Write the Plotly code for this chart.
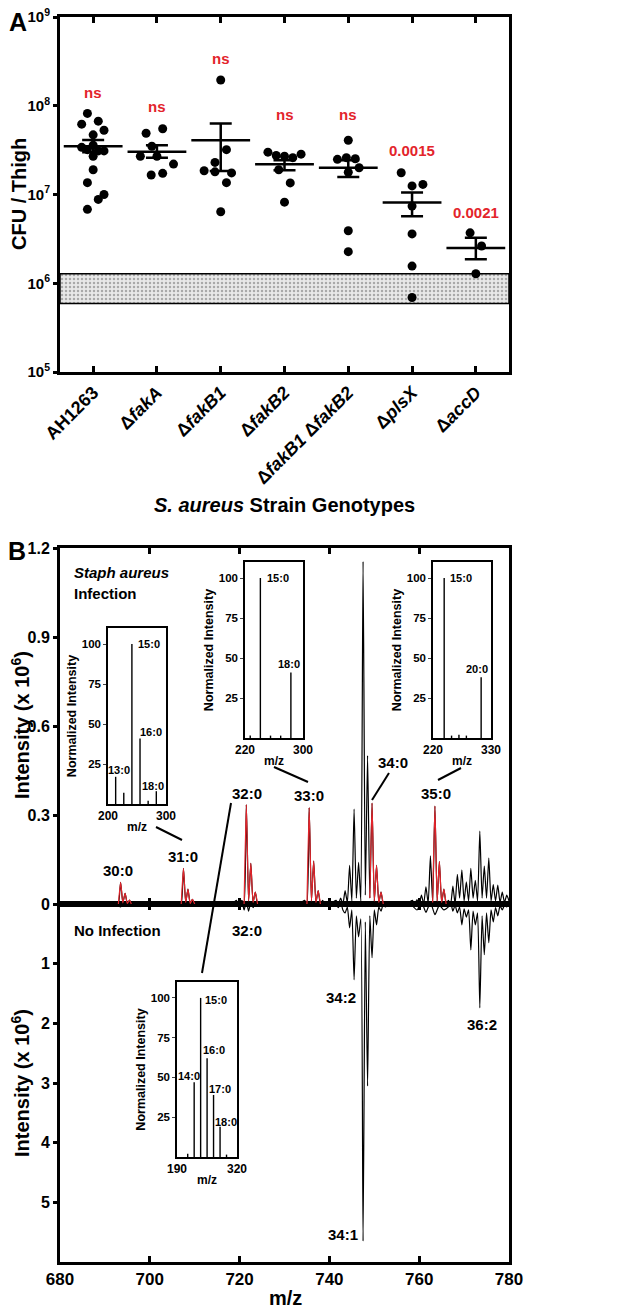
import plotly.graph_objects as go

FONT = "Liberation Sans, Arial, sans-serif"
RED = "#e3242b"

# ---------------------------------------------------------------- panel A data
strains = ["AH1263", "Δ<i>fakA</i>", "Δ<i>fakB1</i>", "Δ<i>fakB2</i>",
           "Δ<i>fakB1</i> Δ<i>fakB2</i>", "Δ<i>plsX</i>", "Δ<i>accD</i>"]

cfu_ah1263 = [8.2e7, 6.2e7, 6.7e7, 4.7e7, 5.3e7, 3.4e7, 3.6e7, 3.2e7, 3.1e7, 3.1e7,
              2.7e7, 1.9e7, 1.36e7, 1.0e7, 8.8e6, 6.8e6]
jit_ah1263 = [-0.09, -0.18, 0.08, 0.0, 0.17, -0.18, 0.0, -0.09, 0.08, 0.17,
              0.0, 0.0, -0.09, 0.17, 0.08, -0.09]
cfu_fakA = [4.9e7, 5.5e7, 3.5e7, 2.7e7, 2.7e7, 2.2e7, 1.66e7, 1.73e7]
jit_fakA = [-0.17, 0.09, -0.08, 0.0, -0.26, 0.26, -0.09, 0.09]
cfu_fakB1 = [1.95e8, 3.2e7, 2.3e7, 1.85e7, 1.8e7, 1.75e7, 1.36e7, 6.4e6]
jit_fakB1 = [0.0, 0.09, -0.09, -0.26, -0.09, 0.17, 0.09, 0.0]
cfu_fakB2 = [3.0e7, 2.75e7, 2.7e7, 2.6e7, 2.85e7, 1.9e7, 1.35e7, 8.2e6]
jit_fakB2 = [-0.26, -0.13, 0.0, 0.13, 0.26, -0.09, 0.09, 0.0]
cfu_fakB1B2 = [4.08e7, 2.49e7, 2.6e7, 2.53e7, 1.78e7, 2.0e7, 3.9e6, 2.27e6]
jit_fakB1B2 = [0.0, -0.17, -0.03, 0.11, 0.0, 0.17, 0.0, 0.0]
cfu_plsX = [1.76e7, 1.25e7, 1.3e7, 7.4e6, 3.6e6, 1.56e6, 6.9e5]
jit_plsX = [-0.17, 0.0, 0.17, 0.0, 0.0, 0.0, 0.0]
cfu_accD = [3.7e6, 2.63e6, 1.28e6]
jit_accD = [-0.09, 0.09, 0.0]

cfu_mean = [3.5e7, 3.03e7, 4.08e7, 2.19e7, 2.0e7, 8.1e6, 2.5e6]
cfu_upper = [4.1e7, 3.6e7, 6.3e7, 2.43e7, 2.43e7, 1.05e7, 3.26e6]
cfu_lower = [3.0e7, 2.6e7, 1.84e7, 1.88e7, 1.57e7, 5.7e6, 1.86e6]

p_labels = ["ns", "ns", "ns", "ns", "ns", "0.0015", "0.0021"]
lod_low, lod_high = 5.9e5, 1.28e6

# ---------------------------------------------------------------- panel B data
# infection spectrum (x 10^6), apex/valley vertices
mz_inf = [680.0, 686.0, 692.5, 693.0, 693.5, 694.0, 694.5, 695.0, 695.5, 696.0, 696.8,
          706.5, 707.0, 707.5, 708.0, 708.5, 709.0, 709.5, 710.0, 710.5,
          718.5, 719.3, 719.8, 720.5, 721.0, 721.5, 722.0, 722.5, 723.0, 723.5, 724.0, 724.5, 725.0,
          733.5, 734.5, 735.0, 735.5, 736.0, 736.5, 737.0, 737.5, 738.0, 738.5, 739.0,
          740.5, 741.5, 742.0, 742.5, 743.0, 743.5, 744.0, 744.5, 745.0, 745.5, 746.0, 746.5,
          747.0, 747.5, 748.0, 748.5, 749.0, 749.5, 750.0, 750.5, 751.0, 751.5, 752.0, 752.5, 753.0,
          757.5, 758.5, 759.0, 759.5, 760.0, 760.5, 761.0, 761.5, 762.0, 762.5, 763.0,
          763.5, 764.0, 764.5, 765.0, 765.5, 766.0, 766.5, 767.0, 767.5, 768.0, 768.5, 769.0,
          769.5, 770.0, 770.5, 771.0, 771.5, 772.0, 772.5, 773.0, 773.5, 774.0, 774.5, 775.0,
          775.5, 776.0, 776.5, 777.0, 777.5, 778.0, 778.5, 779.0, 779.5, 780.0]
int_inf = [0.003, 0.003, 0.003, 0.0, 0.073, 0.004, 0.036, 0.002, 0.013, -0.006, 0.003,
           0.003, 0.0, 0.12, 0.005, 0.05, 0.002, 0.016, 0.0, 0.003,
           0.004, 0.012, -0.008, 0.012, 0.0, 0.335, 0.01, 0.137, 0.005, 0.04, 0.0, 0.008, 0.0,
           0.004, 0.012, 0.0, 0.325, 0.01, 0.145, 0.005, 0.045, 0.0, 0.012, 0.0,
           0.004, 0.012, 0.0, 0.02, 0.0, 0.045, 0.005, 0.13, 0.01, 0.32, 0.02, 0.14,
           0.01, 1.155, 0.03, 0.50, 0.02, 0.34, 0.01, 0.13, 0.005, 0.04, 0.0, 0.008, 0.0,
           0.004, 0.012, 0.0, 0.015, 0.0, 0.03, 0.0, 0.058, 0.002, 0.162, 0.005,
           0.33, 0.01, 0.143, 0.005, 0.05, 0.0, 0.012, 0.0, 0.06, 0.0, 0.10, 0.02,
           0.115, 0.01, 0.075, 0.01, 0.12, 0.02, 0.08, 0.01, 0.246, 0.02, 0.128, 0.02,
           0.155, 0.01, 0.065, 0.01, 0.064, 0.005, 0.04, 0.005, 0.03, 0.01]
# odd/saturated PG clusters highlighted in red
red_from = [693.0, 707.0, 721.0, 735.0, 749.0, 763.0]
red_to = [696.0, 710.0, 724.0, 738.0, 752.0, 766.0]

# no-infection spectrum (x 10^6), drawn downward
mz_ctl = [680.0, 692.5, 693.5, 694.0, 694.5, 695.5, 706.5, 707.5, 708.5, 719.5, 720.0, 720.5,
          721.0, 721.5, 722.0, 722.5, 723.0, 723.5, 724.5, 733.5, 735.5, 736.5, 737.5, 741.0,
          742.0, 742.5, 743.0, 743.5, 744.0, 744.5, 745.0, 745.5, 746.0, 746.5, 747.0, 747.5,
          748.0, 748.5, 749.0, 749.5, 750.0, 750.5, 751.0, 751.5, 752.0, 752.5, 753.5,
          758.0, 759.5, 760.5, 761.5, 762.5, 763.5, 764.5, 765.5, 766.5, 767.0, 767.5, 768.0,
          768.5, 769.0, 769.5, 770.0, 770.5, 771.0, 771.5, 772.0, 772.5, 773.0, 773.5, 774.0,
          774.5, 775.0, 775.5, 776.0, 776.5, 777.0, 777.5, 778.0, 778.5, 779.0, 779.5, 780.0]
int_ctl = [0.0, 0.0, 0.05, -0.03, 0.02, 0.0, 0.0, 0.01, 0.0, 0.0, 0.06, -0.05,
           0.1, -0.04, 0.12, -0.03, 0.06, 0.0, 0.0, 0.0, 0.03, 0.0, 0.0, 0.0,
           0.06, -0.04, 0.1, 0.15, 0.05, 0.4, 0.1, 1.27, 0.2, 0.55, 0.25, 5.65,
           0.3, 3.05, 0.2, 0.9, 0.1, 0.35, 0.05, 0.12, 0.0, 0.05, 0.0,
           0.0, 0.1, -0.04, 0.14, -0.03, 0.18, 0.02, 0.1, 0.05, -0.03, 0.12, 0.02,
           0.15, 0.05, 0.35, 0.08, 0.22, 0.1, 0.77, 0.12, 0.35, 0.15, 1.74, 0.2,
           0.85, 0.15, 0.65, 0.1, 0.3, 0.06, 0.2, 0.03, 0.1, 0.02, 0.05, 0.0]

# fatty-acid fragment insets (normalized intensity)
fa1_mz = [213.2, 227.2, 241.2, 255.2, 269.2, 283.3]
fa1_int = [17, 7, 100, 41, 2, 8]
fa2_mz = [227.2, 241.2, 255.2, 269.2, 283.3]
fa2_int = [1.5, 100, 1.5, 1.5, 41]
fa3_mz = [241.2, 255.2, 269.2, 283.3, 311.3]
fa3_int = [100, 1.5, 2, 1.5, 38]
fa4_mz = [213.2, 227.2, 241.2, 255.2, 269.2, 283.3, 297.3]
fa4_int = [2, 47, 100, 62, 39, 19, 1.5]

# ---------------------------------------------------------------- geometry helpers
# page body has an 8px margin, so the figure itself is 8px smaller
PAGE_OFF = 8
W, H = 621 - PAGE_OFF, 1313 - PAGE_OFF
ML, MR, MT, MB = 60 - PAGE_OFF, 112, 17 - PAGE_OFF, 51
PW, PH = W - ML - MR, H - MT - MB
PLOT_LEFT, PLOT_BOTTOM = ML + PAGE_OFF, MT + PAGE_OFF + PH   # page pixels


def px(x):
    return (x - PLOT_LEFT) / PW


def py(y):
    return (PLOT_BOTTOM - y) / PH


def bold(size, color="black", italic=False):
    return dict(family=FONT, size=size, color=color, weight="bold",
                style="italic" if italic else "normal")


fig = go.Figure()

# ---------------------------------------------------------------- panel A traces
fig.add_trace(go.Scatter(
    x=[-0.52, 6.52, 6.52, -0.52, -0.52], y=[lod_low, lod_low, lod_high, lod_high, lod_low],
    fill="toself", mode="lines", line=dict(color="black", width=1.5),
    fillcolor="#e4e4e4",
    fillpattern=dict(shape=".", size=4, solidity=0.3, fgcolor="#6a6a6a", bgcolor="#e8e8e8"),
    hoverinfo="skip", xaxis="x", yaxis="y",
))

groups = [(cfu_ah1263, jit_ah1263), (cfu_fakA, jit_fakA), (cfu_fakB1, jit_fakB1),
          (cfu_fakB2, jit_fakB2), (cfu_fakB1B2, jit_fakB1B2), (cfu_plsX, jit_plsX),
          (cfu_accD, jit_accD)]
for i, (vals, jit) in enumerate(groups):
    fig.add_trace(go.Scatter(
        x=[i + j for j in jit], y=vals, mode="markers",
        marker=dict(color="black", size=9), xaxis="x", yaxis="y",
    ))

fig.add_trace(go.Scatter(
    x=list(range(len(strains))), y=cfu_mean, mode="markers",
    marker=dict(symbol="line-ew", size=42, line=dict(color="black", width=2.5)),
    error_y=dict(type="data", symmetric=False,
                 array=[u - m for u, m in zip(cfu_upper, cfu_mean)],
                 arrayminus=[m - l for m, l in zip(cfu_mean, cfu_lower)],
                 color="black", thickness=2.5, width=11),
    xaxis="x", yaxis="y",
))

# ---------------------------------------------------------------- panel B traces
spec_line = dict(width=1.2, shape="spline", smoothing=0.5)
fig.add_trace(go.Scatter(
    x=mz_inf, y=int_inf, mode="lines", line=dict(color="black", **spec_line),
    xaxis="x3", yaxis="y2",
))
red_x, red_y = [], []
for lo, hi in zip(red_from, red_to):
    for m, v in zip(mz_inf, int_inf):
        if lo <= m <= hi:
            red_x.append(m)
            red_y.append(v)
    red_x.append(None)
    red_y.append(None)
fig.add_trace(go.Scatter(
    x=red_x, y=red_y, mode="lines", line=dict(color=RED, **spec_line),
    connectgaps=False, xaxis="x3", yaxis="y2",
))
fig.add_trace(go.Scatter(
    x=mz_ctl, y=int_ctl, mode="lines", line=dict(color="black", **spec_line),
    xaxis="x2", yaxis="y3",
))

# insets (page-pixel boxes)
insets = [
    (4, fa1_mz, fa1_int, [108, 166], [628, 804], [200, 300]),
    (5, fa2_mz, fa2_int, [245, 303], [562, 738], [220, 300]),
    (6, fa3_mz, fa3_int, [433, 491], [562, 738], [220, 330]),
    (7, fa4_mz, fa4_int, [177, 237], [982, 1157], [190, 320]),
]
layout_axes = {}
for n, mzs, ints, xb, yb, xr in insets:
    sx, sy = [], []
    for m, v in zip(mzs, ints):
        sx += [m, m, None]
        sy += [0, v, None]
    fig.add_trace(go.Scatter(x=sx, y=sy, mode="lines", line=dict(color="black", width=1.4),
                             xaxis=f"x{n}", yaxis=f"y{n}"))
    layout_axes[f"xaxis{n}"] = dict(
        domain=[px(xb[0]), px(xb[1])], range=xr, anchor=f"y{n}", tickvals=xr,
        ticks="", showgrid=False, zeroline=False, linecolor="black", linewidth=1.5,
        mirror=True, tickfont=bold(12), automargin=False,
        title=dict(text="m/z", font=bold(12), standoff=0),
    )
    layout_axes[f"yaxis{n}"] = dict(
        domain=[py(yb[1]), py(yb[0])], range=[0, 110], anchor=f"x{n}",
        tickvals=[25, 50, 75, 100], ticks="outside", ticklen=3, tickwidth=1.2,
        showgrid=False, zeroline=False, linecolor="black", linewidth=1.5, mirror=True,
        tickfont=bold(11.5), automargin=False,
        title=dict(text="Normalized Intensity", font=bold(12.5), standoff=2),
    )

# ---------------------------------------------------------------- annotations
ann = []
# panel labels
ann.append(dict(text="A", x=px(18), y=py(22), font=bold(25)))
ann.append(dict(text="B", x=px(17), y=py(551), font=bold(25)))
# panel A p-values (log10 positions)
p_label_y = [8.147, 7.986, 8.535, 7.899, 7.899, 7.498, 6.792]
for i, (t, yv) in enumerate(zip(p_labels, p_label_y)):
    ann.append(dict(text=t, x=i, y=yv, xref="x", yref="y", font=bold(15, RED)))
ann.append(dict(text="CFU / Thigh", x=px(19), y=py(194), textangle=-90, font=bold(20)))
ann.append(dict(text="<i>S. aureus</i> Strain Genotypes", x=px(284), y=py(505), font=bold(20)))
# panel B text
ann.append(dict(text="Intensity (x 10<sup>6</sup>)", x=px(20), y=py(725), textangle=-90, font=bold(20)))
ann.append(dict(text="Intensity (x 10<sup>6</sup>)", x=px(20), y=py(1083), textangle=-90, font=bold(20)))
ann.append(dict(text="m/z", x=px(285), y=py(1298), font=bold(20)))
ann.append(dict(text="<i>Staph aureus</i>", x=px(72), y=py(572), xanchor="left", font=bold(15)))
ann.append(dict(text="Infection", x=px(72), y=py(593), xanchor="left", font=bold(15)))
ann.append(dict(text="No Infection", x=px(72), y=py(931), xanchor="left", font=bold(15)))
peak_labels = [("30:0", 118, 870), ("31:0", 183, 856), ("32:0", 247, 793), ("33:0", 309, 795),
               ("34:0", 393, 762), ("35:0", 436, 793), ("32:0", 247, 931), ("34:2", 341, 997),
               ("36:2", 482, 1024), ("34:1", 343, 1234)]
for t, xx, yy in peak_labels:
    ann.append(dict(text=t, x=px(xx), y=py(yy), font=bold(15)))
# inset peak labels (inset axis, x, y, xanchor)
inset_labels = [
    (4, "15:0", 248, 100, "left"), (4, "16:0", 251, 45, "left"),
    (4, "13:0", 219, 21, "center"), (4, "18:0", 278, 11, "center"),
    (5, "15:0", 247, 100, "left"), (5, "18:0", 280, 46, "center"),
    (6, "15:0", 248, 100, "left"), (6, "20:0", 303, 43, "center"),
    (7, "15:0", 247, 99, "left"), (7, "16:0", 270, 67, "center"),
    (7, "14:0", 216, 51, "center"), (7, "17:0", 283, 43, "center"),
    (7, "18:0", 296, 22, "center"),
]
for n, t, xx, yy, xa in inset_labels:
    ann.append(dict(text=t, x=xx, y=yy, xref=f"x{n}", yref=f"y{n}", xanchor=xa, font=bold(11)))

for a in ann:
    a.setdefault("xref", "paper")
    a.setdefault("yref", "paper")
    a.setdefault("xanchor", "center")
    a.setdefault("yanchor", "middle")
    a.setdefault("showarrow", False)

connectors = [((156, 827), (182, 840)), ((231, 803), (202, 973)), ((274, 767), (308, 782)),
              ((389, 773), (372, 800)), ((461, 768), (438, 780))]
shapes = [dict(type="line", xref="paper", yref="paper", x0=px(a[0]), y0=py(a[1]),
               x1=px(b[0]), y1=py(b[1]), line=dict(color="black", width=2))
          for a, b in connectors]

axis_common = dict(showgrid=False, zeroline=False, linecolor="black", linewidth=3,
                   tickcolor="black", tickwidth=2.5, automargin=False,
                   ticklabeloverflow="allow")

fig.update_layout(
    width=W, height=H, margin=dict(l=ML, r=MR, t=MT, b=MB),
    paper_bgcolor="white", plot_bgcolor="rgba(0,0,0,0)", showlegend=False,
    font=dict(family=FONT, color="black"),
    xaxis=dict(domain=[0, 1], range=[-0.52, 6.52], anchor="y", tickvals=list(range(7)),
               ticktext=strains, tickangle=-45, ticks="inside", ticklen=6, mirror="ticks",
               tickfont=bold(18), **axis_common),
    yaxis=dict(domain=[py(372), py(17)], type="log", range=[5, 9], anchor="x",
               tickvals=[1e5, 1e6, 1e7, 1e8, 1e9],
               ticktext=[f"10<sup>{k}</sup>" for k in range(5, 10)],
               ticks="outside", ticklen=4, mirror=True, tickfont=bold(15), **axis_common),
    xaxis2=dict(domain=[0, 1], range=[680, 780], anchor="y3", tickvals=list(range(680, 781, 20)),
                ticks="inside", ticklen=6, mirror="ticks", tickfont=bold(17), **axis_common),
    xaxis3=dict(domain=[0, 1], range=[680, 780], anchor="y2", tickvals=list(range(680, 781, 20)),
                ticks="inside", ticklen=6, mirror="ticks", showticklabels=False, **axis_common),
    yaxis2=dict(domain=[py(904), py(548)], range=[0, 1.2], anchor="x3",
                tickvals=[0, 0.3, 0.6, 0.9, 1.2], ticktext=["0", "0.3", "0.6", "0.9", "1.2"],
                ticks="outside", ticklen=4, mirror=True, tickfont=bold(16), **axis_common),
    yaxis3=dict(domain=[0, py(904)], range=[6, 0], anchor="x2", tickvals=[1, 2, 3, 4, 5],
                ticks="outside", ticklen=4, mirror=True, tickfont=bold(16), **axis_common),
    annotations=ann,
    shapes=shapes,
    **layout_axes,
)

fig.write_html("out.html")
